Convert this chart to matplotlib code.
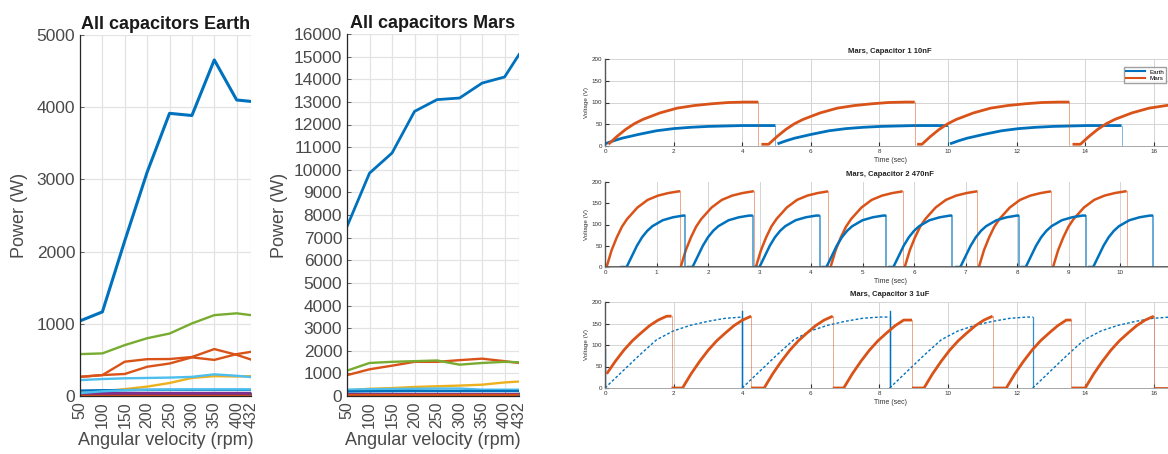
import numpy as np
import matplotlib
matplotlib.use("Agg")
import matplotlib.pyplot as plt

plt.rcParams['font.family'] = ['Liberation Sans', 'DejaVu Sans']

# ---------------- data: left panels ----------------
rpm = [50, 100, 150, 200, 250, 300, 350, 400, 432]
rpm_ticks = [50, 100, 150, 200, 250, 300, 350, 400, 432]

earth_blue = [1040, 1165, 2150, 3100, 3915, 3885, 4655, 4100, 4080]
earth_orange_a = [265, 290, 475, 510, 512, 540, 650, 570, 505]
earth_yellow = [30, 65, 95, 130, 180, 250, 275, 270, 275]
earth_purple = [22, 22, 22, 22, 22, 22, 22, 22, 22]
earth_green = [580, 590, 705, 800, 865, 1005, 1120, 1145, 1120]
earth_lightblue_a = [220, 235, 245, 250, 255, 265, 300, 280, 262]
earth_darkred = [5, 5, 5, 5, 5, 5, 5, 5, 5]
earth_blue_b = [75, 80, 82, 84, 85, 85, 85, 85, 85]
earth_orange_b = [265, 290, 305, 405, 450, 535, 500, 580, 612]
earth_purple_b = [40, 40, 40, 40, 40, 40, 40, 40, 40]
earth_lightblue_b = [40, 65, 80, 88, 90, 92, 92, 92, 92]
earth_darkred_b = [0, 0, 0, 0, 0, 0, 0, 0, 0]

mars_blue = [7490, 9850, 10740, 12580, 13100, 13170, 13830, 14100, 15090]
mars_orange = [920, 1180, 1340, 1510, 1510, 1585, 1650, 1540, 1460]
mars_yellow = [250, 320, 350, 400, 430, 460, 500, 600, 640]
mars_purple = [100, 100, 100, 100, 100, 100, 100, 100, 100]
mars_green = [1120, 1460, 1510, 1540, 1570, 1385, 1460, 1510, 1490]
mars_lightblue = [280, 300, 310, 320, 330, 330, 280, 280, 280]
mars_darkred = [20, 20, 20, 20, 20, 20, 20, 20, 20]
mars_blue_b = [200, 210, 215, 220, 220, 220, 220, 220, 220]
mars_orange_b = [30, 30, 30, 30, 30, 30, 30, 30, 30]

# ---------------- data: right panels (charging curves) ----------------
# panel 1: Capacitor 1
p1_or_t = [0, 0.25, 0.5, 0.75, 1.0, 1.5, 2.0, 2.5, 3.0, 3.5, 4.0, 4.5]
p1_or_v = [4, 22, 38, 51, 61, 76, 87, 93, 97, 100, 101, 102]
p1_or_segs = [(None, 0.1, 4.47), (4.56, 4.77, 9.03), (9.10, 9.24, 13.54), (13.63, 13.86, 17.0)]
p1_bl_t = [0, 0.25, 0.5, 1.0, 1.5, 2.0, 2.5, 3.0, 3.5, 4.0, 4.5, 5.0]
p1_bl_v = [5, 12, 18, 27, 35, 40, 43, 45, 46, 47, 47, 47]
p1_bl_segs = [(None, 0.0, 4.97), (None, 5.03, 10.0), (None, 10.06, 15.06)]

# panel 2: Capacitor 2
p2_or_t = [0, 0.1, 0.2, 0.3, 0.4, 0.6, 0.8, 1.0, 1.2, 1.4]
p2_or_v = [0, 40, 70, 95, 113, 140, 158, 168, 174, 178]
p2_or_segs = [(None, 0.03, 1.46), (None, 1.47, 2.89), (None, 2.93, 4.33), (None, 4.38, 5.78),
              (None, 5.82, 7.23), (None, 7.26, 8.66), (None, 8.70, 10.13)]
p2_bl_t = [0, 0.1, 0.2, 0.3, 0.4, 0.5, 0.7, 0.9, 1.1]
p2_bl_v = [0, 25, 50, 70, 85, 96, 110, 117, 121]
p2_bl_segs = [(0.30, 0.42, 1.56), (1.59, 1.70, 2.87), (2.89, 3.00, 4.17), (4.20, 4.30, 5.46),
              (5.50, 5.60, 6.74), (6.80, 6.90, 8.04), (8.07, 8.17, 9.34), (9.38, 9.48, 10.64)]

# panel 3: Capacitor 3
p3_or_t = [0, 0.25, 0.5, 0.75, 1.0, 1.25, 1.5, 1.75, 2.0]
p3_or_v = [0, 33, 62, 88, 110, 128, 145, 158, 167]
p3_or_segs = [(None, -0.2, 1.94), (1.94, 2.26, 4.26), (4.26, 4.64, 6.64), (6.64, 6.96, 8.95),
              (8.95, 9.30, 11.30), (11.30, 11.70, 13.60), (13.60, 14.00, 16.00), (16.00, 17.5, 17.5)]
p3_bl_t = [0, 0.5, 1.0, 1.5, 2.0, 2.5, 3.0, 3.5, 4.0, 4.5]
p3_bl_v = [0, 38, 76, 112, 133, 146, 155, 162, 165, 166]
p3_bl_segs = [(None, 0.0, 4.0), (None, 4.0, 8.3), (None, 8.3, 12.47), (None, 12.47, 17.0)]
p3_bl_spikes = [(0.0, 90), (4.0, 180), (8.3, 180)]

C_BLUE = '#0072BD'
C_ORANGE = '#D95319'
C_YELLOW = '#EDB120'
C_PURPLE = '#7E2F8E'
C_GREEN = '#77AC30'
C_LBLUE = '#4DBEEE'
C_DRED = '#A2142F'
TXT = '#4a4a4a'

fig = plt.figure(figsize=(11.68, 4.54), dpi=100)
W, H = 1168.0, 454.0


def style_left(ax, ymax, ystep):
    ax.set_xlim(50, 432)
    ax.set_ylim(0, ymax)
    ax.set_xticks(rpm_ticks)
    ax.set_xticklabels([str(v) for v in rpm_ticks], rotation=90)
    ax.set_yticks(np.arange(0, ymax + 1, ystep))
    ax.grid(True, color='#e3e3e3', lw=0.9)
    ax.set_axisbelow(True)
    for s in ['top', 'right']:
        ax.spines[s].set_visible(False)
    for s in ['left', 'bottom']:
        ax.spines[s].set_color('#262626')
        ax.spines[s].set_linewidth(0.9)
    ax.tick_params(labelsize=12.5, colors=TXT, direction='in', length=3, width=0.6)
    ax.tick_params(axis='x', labelsize=11.5, pad=4)
    ax.set_xlabel('Angular velocity (rpm)', fontsize=13, color=TXT, labelpad=3)


# Earth
ax1 = fig.add_axes([80 / W, 1 - 396 / H, 171 / W, (396 - 35) / H])
lw = 1.7
ax1.plot(rpm, earth_blue, color=C_BLUE, lw=2.2)
ax1.plot(rpm, earth_orange_a, color=C_ORANGE, lw=lw)
ax1.plot(rpm, earth_yellow, color=C_YELLOW, lw=lw)
ax1.plot(rpm, earth_purple, color=C_PURPLE, lw=lw)
ax1.plot(rpm, earth_green, color=C_GREEN, lw=lw)
ax1.plot(rpm, earth_lightblue_a, color=C_LBLUE, lw=lw)
ax1.plot(rpm, earth_darkred, color=C_DRED, lw=lw)
ax1.plot(rpm, earth_blue_b, color=C_BLUE, lw=lw)
ax1.plot(rpm, earth_orange_b, color=C_ORANGE, lw=lw)
ax1.plot(rpm, earth_purple_b, color=C_PURPLE, lw=lw)
ax1.plot(rpm, earth_lightblue_b, color=C_LBLUE, lw=lw)
ax1.plot(rpm, earth_darkred_b, color=C_ORANGE, lw=lw)
style_left(ax1, 5000, 1000)
ax1.set_title('All capacitors Earth', fontsize=13, fontweight='bold', color='#1a1a1a', pad=4)
ax1.set_ylabel('Power (W)', fontsize=13, color=TXT, labelpad=6)

# Mars
ax2 = fig.add_axes([347 / W, 1 - 396 / H, 172 / W, (396 - 34) / H])
ax2.plot(rpm, mars_blue, color=C_BLUE, lw=2.0)
ax2.plot(rpm, mars_orange, color=C_ORANGE, lw=lw)
ax2.plot(rpm, mars_yellow, color=C_YELLOW, lw=lw)
ax2.plot(rpm, mars_purple, color=C_PURPLE, lw=lw)
ax2.plot(rpm, mars_green, color=C_GREEN, lw=lw)
ax2.plot(rpm, mars_lightblue, color=C_LBLUE, lw=lw)
ax2.plot(rpm, mars_darkred, color=C_DRED, lw=lw)
ax2.plot(rpm, mars_blue_b, color=C_BLUE, lw=lw)
ax2.plot(rpm, mars_orange_b, color=C_ORANGE, lw=lw)
style_left(ax2, 16000, 1000)
ax2.set_title('All capacitors Mars', fontsize=13, fontweight='bold', color='#1a1a1a', pad=4)
ax2.set_ylabel('Power (W)', fontsize=13, color=TXT, labelpad=4)


# ---------------- right panels ----------------
def segments(ax, prof_t, prof_v, segs, color, lw, ls='-', drop_lw=0.7, drop_alpha=0.5):
    for flat_start, rise_start, end in segs:
        xs, ys = [], []
        if flat_start is not None:
            xs += [flat_start, rise_start]
            ys += [prof_v[0], prof_v[0]]
        last_v = prof_v[0]
        for t, v in zip(prof_t, prof_v):
            x = rise_start + t
            if x > end:
                break
            if x < 0:
                continue
            xs.append(x)
            ys.append(v)
            last_v = v
        xs.append(end)
        ys.append(last_v)
        ax.plot(xs, ys, color=color, lw=lw, ls=ls, solid_capstyle='butt')
        ax.plot([end, end], [last_v, 0], color=color, lw=drop_lw, alpha=drop_alpha)


def style_right(ax, xmax, xticks, title):
    ax.set_xlim(0, xmax)
    ax.set_ylim(0, 200)
    ax.set_yticks([0, 50, 100, 150, 200])
    ax.set_xticks(xticks)
    ax.grid(True, color='#d4d4d4', lw=0.7)
    ax.set_axisbelow(True)
    for s in ['top', 'right']:
        ax.spines[s].set_visible(False)
    ax.spines['left'].set_color('#555555')
    ax.spines['left'].set_linewidth(1.0)
    ax.spines['bottom'].set_color('#999999')
    ax.spines['bottom'].set_linewidth(0.6)
    ax.tick_params(labelsize=4.5, colors='#333333', length=3, width=0.8, direction='in', pad=2)
    ax.set_title(title, fontsize=5.5, fontweight='bold', color='#222222', pad=4)
    ax.set_xlabel('Time (sec)', fontsize=5, color='#333333', labelpad=2)
    ax.set_ylabel('Voltage (V)', fontsize=4.5, color='#333333', labelpad=2)


rl = 605 / W
rw = 570 / W

axr1 = fig.add_axes([rl, 1 - 146 / H, rw, 87 / H])
segments(axr1, p1_bl_t, p1_bl_v, p1_bl_segs, C_BLUE, 2.0)
axr1.plot([0, 0], [0, 47], color=C_BLUE, lw=1.2)
segments(axr1, p1_or_t, p1_or_v, p1_or_segs, C_ORANGE, 2.0)
style_right(axr1, 570 / 34.3, [0, 2, 4, 6, 8, 10, 12, 14, 16], 'Mars, Capacitor 1 10nF')
axr1.plot([], [], color=C_BLUE, lw=1.5, label='Earth')
axr1.plot([], [], color=C_ORANGE, lw=1.5, label='Mars')
h, l = axr1.get_legend_handles_labels()
leg = axr1.legend(h[-2:], l[-2:], loc='upper right', bbox_to_anchor=(0.99, 0.94),
                  fontsize=4.5, frameon=True, handlelength=3, borderpad=0.3,
                  labelspacing=0.2, fancybox=False, edgecolor='#888888')

axr2 = fig.add_axes([rl, 1 - 267 / H, rw, 85 / H])
segments(axr2, p2_or_t, p2_or_v, p2_or_segs, C_ORANGE, 1.8)
segments(axr2, p2_bl_t, p2_bl_v, p2_bl_segs, C_BLUE, 1.8, drop_lw=1.2, drop_alpha=0.7)
axr2.axhline(0, color='#555555', lw=2.0, zorder=3)
style_right(axr2, 570 / 51.5, list(range(0, 11)), 'Mars, Capacitor 2 470nF')
axr2.grid(False, axis='y')

axr3 = fig.add_axes([rl, 1 - 388 / H, rw, 86 / H])
segments(axr3, p3_bl_t, p3_bl_v, p3_bl_segs, C_BLUE, 1.0, ls=(0, (2, 1.5)), drop_lw=0.9, drop_alpha=0.8)
for sx, sv in p3_bl_spikes:
    axr3.plot([sx, sx], [0, sv], color=C_BLUE, lw=1.0)
segments(axr3, p3_or_t, p3_or_v, p3_or_segs, C_ORANGE, 2.0)
style_right(axr3, 570 / 34.3, [0, 2, 4, 6, 8, 10, 12, 14, 16], 'Mars, Capacitor 3 1uF')

fig.savefig('out.png', dpi=100)
